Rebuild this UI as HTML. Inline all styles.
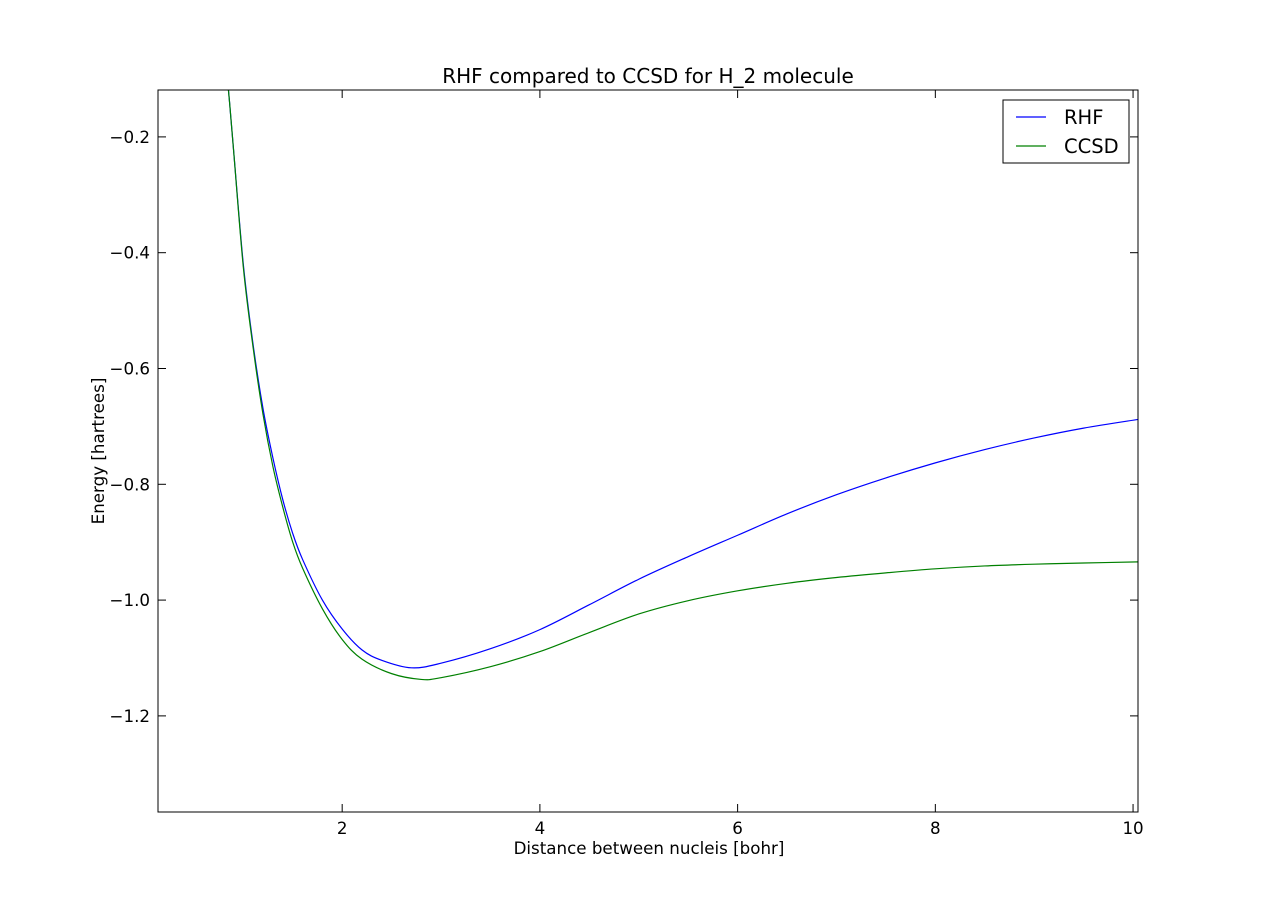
<!DOCTYPE html>
<html><head><meta charset="utf-8"><style>
body{margin:0;background:#fff;}
svg{display:block;font-family:"DejaVu Sans","Liberation Sans",sans-serif;}
</style></head><body>
<svg id="chart" width="1265" height="903" viewBox="0 0 1265 903">
<rect width="1265" height="903" fill="#fff"/>
<text x="648" y="83" text-anchor="middle" font-size="20">RHF compared to CCSD for H_2 molecule</text>
<defs><clipPath id="pc"><rect x="158" y="90" width="980" height="722"/></clipPath></defs>
<g id="series" clip-path="url(#pc)"></g>
<g id="axes"></g>
<text x="649" y="854" text-anchor="middle" font-size="16.7">Distance between nucleis [bohr]</text>
<text transform="translate(104,451) rotate(-90)" text-anchor="middle" font-size="16.7">Energy [hartrees]</text>
<g>
<rect x="1003" y="100" width="126" height="63" fill="#fff" stroke="#000" stroke-width="1"/>
<line x1="1016" y1="117" x2="1046" y2="117" stroke="#0000ff" stroke-width="1.2"/>
<text x="1064" y="124" font-size="19.5">RHF</text>
<line x1="1016" y1="146" x2="1046" y2="146" stroke="#008000" stroke-width="1.2"/>
<text x="1064" y="153" font-size="19.5">CCSD</text>
</g>
</svg>
<script>
const xTicks=[2,4,6,8,10];
const yTicks=[-0.2,-0.4,-0.6,-0.8,-1.0,-1.2];
const yTickLabels=["\u22120.2","\u22120.4","\u22120.6","\u22120.8","\u22121.0","\u22121.2"];
const rhfX=[0.8,0.85,0.9,1.0,1.1,1.2,1.3,1.4,1.5,1.6,1.8,2.0,2.2,2.4,2.7,3.0,3.5,4.0,4.5,5.0,5.5,6.0,6.5,7.0,7.5,8.0,8.5,9.0,9.5,10.05];
const rhfY=[-0.04,-0.12,-0.22,-0.42,-0.56,-0.67,-0.755,-0.827,-0.885,-0.93,-1.0,-1.05,-1.086,-1.104,-1.117,-1.109,-1.084,-1.051,-1.008,-0.964,-0.925,-0.888,-0.851,-0.818,-0.789,-0.763,-0.74,-0.72,-0.703,-0.688];
const ccsdX=[0.8,0.85,0.9,1.0,1.1,1.2,1.3,1.4,1.5,1.6,1.8,2.0,2.2,2.5,2.8,3.0,3.5,4.0,4.5,5.0,5.5,6.0,6.5,7.0,7.5,8.0,8.5,9.0,9.5,10.05];
const ccsdY=[-0.04,-0.12,-0.22,-0.425,-0.565,-0.68,-0.77,-0.84,-0.9,-0.945,-1.015,-1.068,-1.102,-1.127,-1.137,-1.134,-1.115,-1.089,-1.056,-1.024,-1.001,-0.984,-0.971,-0.961,-0.953,-0.946,-0.941,-0.938,-0.936,-0.934];
const X0=158,X1=1138,Y0=90,Y1=812,xmin=0.137,xmax=10.05,ymin=-1.366,ymax=-0.119;
const sx=v=>X0+(v-xmin)/(xmax-xmin)*(X1-X0);
const sy=v=>Y1-(v-ymin)/(ymax-ymin)*(Y1-Y0);
const NS="http://www.w3.org/2000/svg";
function mk(t,a,p){const e=document.createElementNS(NS,t);for(const k in a)e.setAttribute(k,a[k]);p.appendChild(e);return e;}
const series=document.getElementById('series');
function path(xs,ys){let d='';for(let i=0;i<xs.length;i++){const px=sx(xs[i]),py=sy(ys[i]);if(i==0)d+='M'+px+' '+py;else{const qx=sx(xs[i-1]),qy=sy(ys[i-1]);
 const p0x=i>1?sx(xs[i-2]):qx,p0y=i>1?sy(ys[i-2]):qy,p3x=i<xs.length-1?sx(xs[i+1]):px,p3y=i<xs.length-1?sy(ys[i+1]):py;
 d+=' C'+(qx+(px-p0x)/6)+' '+(qy+(py-p0y)/6)+' '+(px-(p3x-qx)/6)+' '+(py-(p3y-qy)/6)+' '+px+' '+py;}}return d;}
const l1=mk('path',{d:path(rhfX,rhfY),fill:'none',stroke:'#0000ff','stroke-width':1.2},series);


const l2=mk('path',{d:path(ccsdX,ccsdY),fill:'none',stroke:'#008000','stroke-width':1.2},series);


const axes=document.getElementById('axes');
const frame=mk('rect',{x:X0,y:Y0,width:X1-X0,height:Y1-Y0,fill:'none',stroke:'#000','stroke-width':1},axes);


xTicks.forEach(v=>{const px=sx(v);
 mk('line',{x1:px,y1:Y1,x2:px,y2:Y1-8,stroke:'#000'},axes);mk('line',{x1:px,y1:Y0,x2:px,y2:Y0+8,stroke:'#000'},axes);
 const t=mk('text',{x:px,y:Y1+22,'text-anchor':'middle','font-size':16.7},axes);t.textContent=v;
 
 });
yTicks.forEach((v,i)=>{const py=sy(v);
 mk('line',{x1:X0,y1:py,x2:X0+8,y2:py,stroke:'#000'},axes);mk('line',{x1:X1,y1:py,x2:X1-8,y2:py,stroke:'#000'},axes);
 const t=mk('text',{x:X0-8,y:py+6,'text-anchor':'end','font-size':16.7},axes);t.textContent=yTickLabels[i];
 
 });
</script>
</body></html>
